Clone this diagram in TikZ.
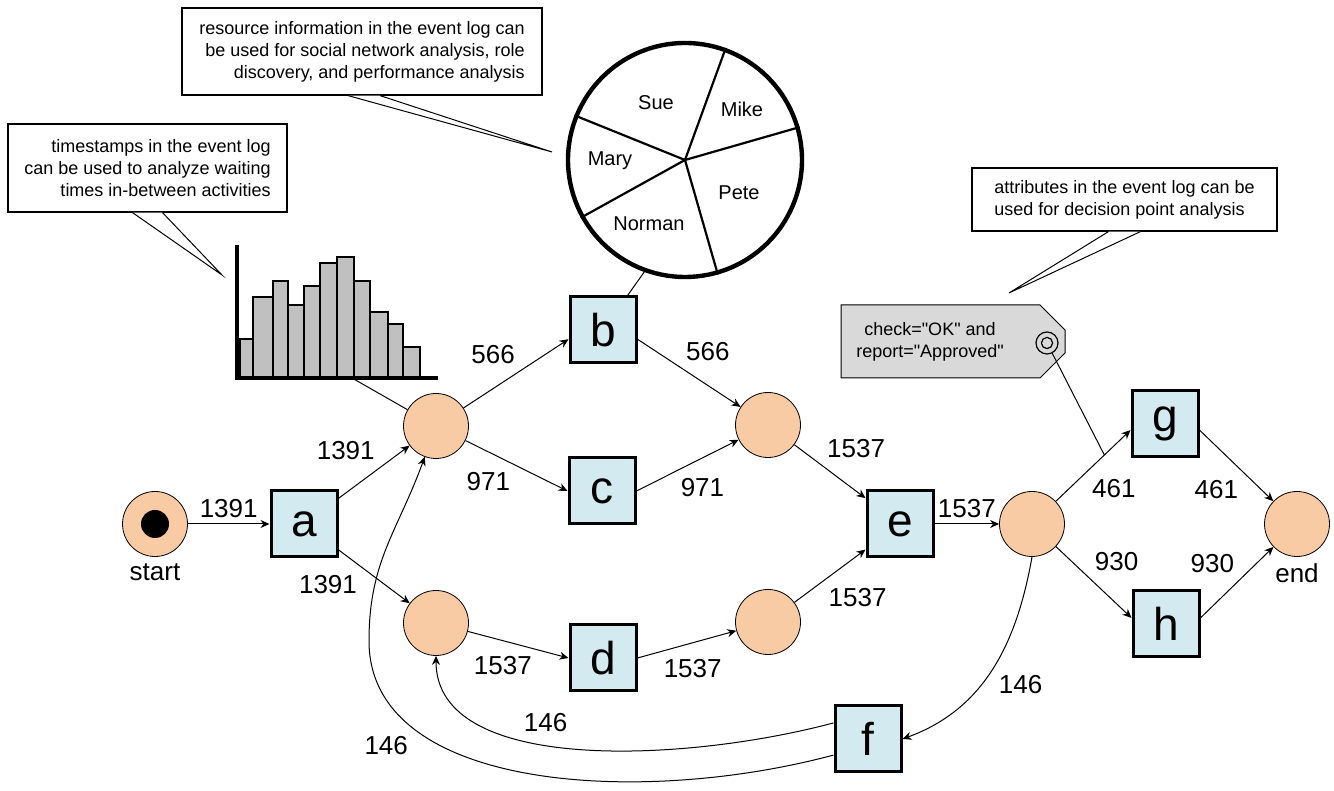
\documentclass[tikz,border=0pt]{standalone}
\usepackage{fontspec}
\setmainfont{Liberation Sans}
\usetikzlibrary{arrows.meta}

\definecolor{placefill}{HTML}{F9CBA4}
\definecolor{transfill}{HTML}{D2EAF0}
\definecolor{tagfill}{HTML}{D9D9D9}
\definecolor{barfill}{HTML}{C0C0C0}

\begin{document}
\begin{tikzpicture}[x=0.5pt,y=0.5pt,>={Stealth[length=4.5pt,width=4pt]},auto,
	place/.style={circle,draw,line width=0.4pt,fill=placefill,minimum size=32.5pt,inner sep=0pt},
	trans/.style={rectangle,draw,line width=1.5pt,fill=transfill,minimum size=33pt,inner sep=0pt,font=\fontsize{23}{23}\selectfont},
	token/.style={circle,fill=black,minimum size=14pt,inner sep=0pt},
	freq/.style={font=\fontsize{13}{13}\selectfont,inner sep=3pt},
	note/.style={rectangle,draw,fill=white,line width=0.6pt,inner sep=0pt,font=\fontsize{9}{11}\selectfont},
	worker/.style={font=\fontsize{10}{10}\selectfont},
	every edge/.style={draw,line width=0.5pt}]
	\useasboundingbox (0,0) rectangle (1334,791);

	% histogram of waiting times
	\foreach \xl/\xr/\yt in {240/253/452,253/273/494,273/288/510,288/304/486,304/320/505,320/337/528,337/354/534,354/370/510,370/388/479,388/403/467,403/420/444}
		\draw[fill=barfill,line width=0.6pt] (\xl,413) rectangle (\xr,\yt);
	\draw[line width=2pt] (237,546) -- (237,413) -- (438,413);
	\coordinate (histo) at (352,413);

	% pie of resources
	\node[circle,draw,line width=2.2pt,minimum size=117pt,inner sep=0pt] (pie) at (685,631) {};
	\foreach \ang in {70,16,-74,209,158}
		\draw[line width=1.1pt] (pie.center) -- (pie.\ang);
	\node[worker] (sue) at (656,688) {Sue};
	\node[worker] (mike) at (742,682) {Mike};
	\node[worker] (mary) at (610,630) {Mary};
	\node[worker] (pete) at (739,598) {Pete};
	\node[worker] (norman) at (649,567) {Norman};

	% the net
	\node[place,label={[freq]below:start}] (pstart) at (155,267) {};
	\node[token] (tok) at (pstart) {};
	\node[trans] (a) at (304,267) {a};
	\node[place] (p1) at (436,365) {};
	\node[place] (p2) at (436,168) {};
	\node[trans] (b) at (603,461) {b};
	\node[trans] (c) at (602,300) {c};
	\node[trans] (d) at (603,133) {d};
	\node[place] (p3) at (768,366) {};
	\node[place] (p4) at (768,169) {};
	\node[trans] (e) at (900,267) {e};
	\node[place] (p5) at (1032,267) {};
	\node[trans] (g) at (1165,367) {g};
	\node[trans] (h) at (1166,167) {h};
	\node[place,label={[freq]below:end}] (pend) at (1297,267) {};
	\node[trans] (f) at (868,52) {f};

	\path[->,nodes={freq}] (pstart) edge node[pos=.5] {1391} (a)
	(a) edge node[pos=.6] {1391} (p1)
	(a) edge node[pos=.35,swap] {1391} (p2)
	(p1) edge node[pos=.55] {566} (b.195)
	(p1) edge node[pos=.5,swap] {971} (c.west)
	(b.-15) edge node[pos=.41] {566} (p3)
	(c.east) edge node[pos=.37,swap] {971} (p3)
	(p3) edge node[pos=.37] {1537} (e)
	(p2) edge node[pos=.7,swap] {1537} (d.west)
	(d.east) edge node[pos=.2,swap] {1537} (p4)
	(p4) edge node[pos=.39,swap] {1537} (e)
	(e) edge node[pos=.5] {1537} (p5)
	(p5) edge node[pos=.4,swap] {461} node[coordinate,pos=.65] (gate) {} (g.190)
	(p5) edge node[pos=.43] {930} (h.170)
	(g.-10) edge node[pos=.61,swap] {461} (pend)
	(h.10) edge node[pos=.55] {930} (pend)
	(p5.south) edge[out=-100,in=20] node[pos=.5] {146} (f.east)
	(f.155) edge[out=195,in=-90,out distance=75pt,in distance=60pt] node[pos=.64,swap] {146} (p2.south)
	;
	\coordinate (turn) at (369,150);
	\draw[->,line width=0.5pt] (f.-155) .. controls +(195:200) and +(-90:150) .. (turn) node[freq,pos=.75] {146}
		.. controls +(90:80) and +(-110:80) .. (p1.-110);

	\draw[line width=0.5pt] (histo) -- (p1);
	\draw[line width=0.5pt] (pie.250) -- (b);

	% decision tag
	\filldraw[fill=tagfill,line width=0.5pt] (841,486) -- (1040,486) -- (1065,461) -- (1065,438) -- (1040,413) -- (841,413) -- cycle;
	\node[font=\fontsize{9}{11}\selectfont,align=center] (cond) at (930,449) {check=\textquotedbl OK\textquotedbl{} and\\report=\textquotedbl Approved\textquotedbl};
	\node[circle,draw,line width=0.6pt,minimum size=11pt,inner sep=0pt] (ring) at (1047,448) {};
	\draw[line width=0.6pt] (ring) circle (2.8pt);
	\draw[line width=0.5pt] (ring) -- (gate);

	% callouts
	\node[note,minimum width=139.5pt,minimum height=44pt,align=right] (note1) at (147.5,623) {timestamps in the event log\\can be used to analyze waiting\\times in-between activities};
	\coordinate (tip1) at (222,516);
	\filldraw[fill=white,line width=0.5pt] ([xshift=-7.5pt]note1.south) -- (tip1) -- ([xshift=7.5pt]note1.south);

	\node[note,minimum width=180pt,minimum height=43.5pt,align=right] (note2) at (362,739.5) {resource information in the event log can\\be used for social network analysis, role\\discovery, and performance analysis};
	\coordinate (tip2) at (552,639);
	\filldraw[fill=white,line width=0.5pt] ([xshift=-7pt]note2.south) -- (tip2) -- ([xshift=9pt]note2.south);

	\node[note,minimum width=152.5pt,minimum height=31.5pt,align=left] (note3) at (1124.5,591.5) {attributes in the event log can be\\used for decision point analysis};
	\coordinate (tip3) at (1009,498);
	\filldraw[fill=white,line width=0.5pt] ([xshift=-8pt]note3.south) -- (tip3) -- ([xshift=8pt]note3.south);
\end{tikzpicture}
\end{document}
